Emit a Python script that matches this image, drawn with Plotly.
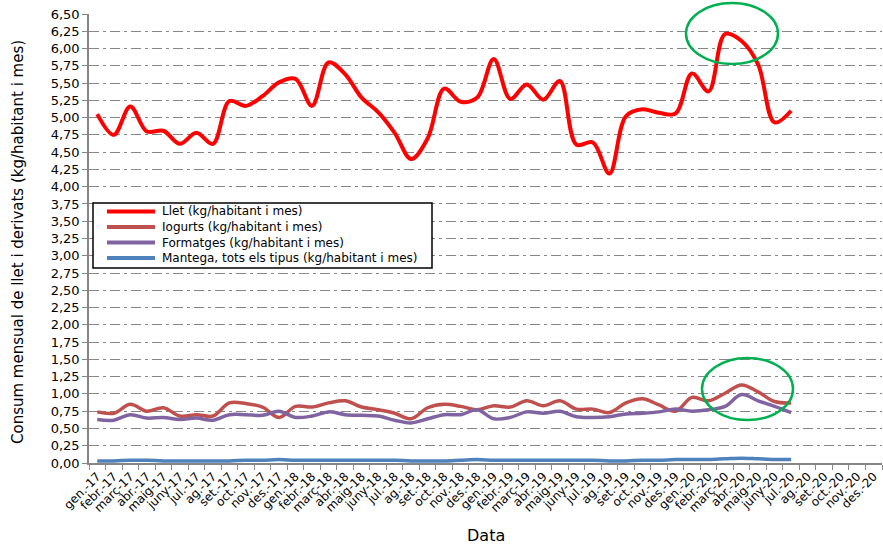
import plotly.graph_objects as go

months = ["gen.-17","febr.-17","març-17","abr.-17","maig-17","juny-17","jul.-17","ag.-17","set.-17","oct.-17","nov.-17","des.-17",
          "gen.-18","febr.-18","març-18","abr.-18","maig-18","juny-18","jul.-18","ag.-18","set.-18","oct.-18","nov.-18","des.-18",
          "gen.-19","febr.-19","març-19","abr.-19","maig-19","juny-19","jul.-19","ag.-19","set.-19","oct.-19","nov.-19","des.-19",
          "gen.-20","febr.-20","març-20","abr.-20","maig-20","juny-20","jul.-20","ag.-20","set.-20","oct.-20","nov.-20","des.-20"]

llet = [5.05,4.75,5.16,4.80,4.81,4.62,4.78,4.62,5.24,5.17,5.31,5.51,5.56,5.17,5.80,5.63,5.29,5.08,4.78,4.40,4.70,5.42,5.23,5.29,
        5.85,5.27,5.48,5.26,5.53,4.61,4.64,4.19,5.02,5.12,5.07,5.06,5.64,5.38,6.21,6.11,5.77,4.93,5.10]
iogurts = [0.74,0.72,0.85,0.75,0.80,0.68,0.70,0.68,0.87,0.86,0.81,0.66,0.82,0.81,0.87,0.90,0.81,0.77,0.72,0.64,0.80,0.85,0.82,0.77,
           0.83,0.81,0.90,0.83,0.90,0.78,0.78,0.73,0.87,0.93,0.84,0.75,0.95,0.90,1.01,1.13,1.03,0.89,0.87]
formatges = [0.63,0.62,0.70,0.65,0.66,0.63,0.65,0.62,0.70,0.70,0.69,0.75,0.66,0.68,0.74,0.70,0.69,0.68,0.62,0.58,0.64,0.70,0.70,0.77,
             0.64,0.66,0.74,0.72,0.75,0.67,0.66,0.67,0.71,0.72,0.74,0.78,0.75,0.77,0.82,0.99,0.90,0.82,0.73]
mantega = [0.03,0.03,0.04,0.04,0.03,0.03,0.03,0.03,0.03,0.04,0.04,0.05,0.04,0.04,0.04,0.04,0.04,0.04,0.04,0.03,0.03,0.03,0.04,0.05,
           0.04,0.04,0.04,0.04,0.04,0.04,0.04,0.03,0.03,0.04,0.04,0.05,0.05,0.05,0.06,0.07,0.06,0.05,0.05]

series_names = ["Llet (kg/habitant i mes)", "Iogurts (kg/habitant i mes)",
                "Formatges (kg/habitant i mes)", "Mantega, tots els tipus (kg/habitant i mes)"]
series_values = [llet, iogurts, formatges, mantega]
series_colors = ["#FF0000", "#C0504D", "#8064A2", "#4F81BD"]
series_widths = [4, 3.5, 3.5, 3.5]

FONT = "DejaVu Sans"
W, H = 883, 545
ML, MR, MT, MB = 89, 1, 14, 82
PW, PH = W - ML - MR, H - MT - MB


def px(x):
    return (x - ML) / PW


def py(y):
    return (MT + PH - y) / PH


fig = go.Figure()
for name, vals, color, w in zip(series_names, series_values, series_colors, series_widths):
    fig.add_trace(go.Scatter(x=months[:len(vals)], y=vals, name=name, mode="lines", showlegend=False,
                             line=dict(color=color, width=w, shape="spline", smoothing=1)))

fig.update_layout(
    width=W, height=H,
    margin=dict(l=ML, r=MR, t=MT, b=MB),
    paper_bgcolor="white", plot_bgcolor="white",
    separators=",.",
    font=dict(family=FONT, color="#000000"),
    showlegend=False,
)
fig.update_xaxes(type="category", categoryorder="array", categoryarray=months,
                 range=[-0.5, len(months) - 0.5],
                 showgrid=False, showline=True, linecolor="#868686", linewidth=1.5,
                 ticks="outside", ticklen=5, tickcolor="#868686", tickwidth=1,
                 tickson="boundaries", tickangle=-45,
                 tickfont=dict(family=FONT, size=12, color="#000000"))
fig.update_yaxes(range=[0, 6.5], dtick=0.25, tick0=0, tickformat=".2f",
                 showgrid=True, gridcolor="#868686", gridwidth=1.3, griddash="10px,4px,3px,4px",
                 showline=True, linecolor="#868686", linewidth=1.5,
                 ticks="outside", ticklen=5, tickcolor="#868686",
                 zeroline=False,
                 tickfont=dict(family=FONT, size=13, color="#000000"))

fig.add_annotation(text="Consum mensual de llet i derivats (kg/habitant i mes)",
                   xref="paper", yref="paper", x=px(18), y=py(242), textangle=-90,
                   showarrow=False, xanchor="center", yanchor="middle",
                   font=dict(family=FONT, size=15, color="#000000"))
fig.add_annotation(text="Data", xref="paper", yref="paper", x=px(486), y=py(535),
                   showarrow=False, xanchor="center", yanchor="middle",
                   font=dict(family=FONT, size=16, color="#000000"))

# legend box (drawn by hand to match the compact row spacing)
fig.add_shape(type="rect", xref="paper", yref="paper", x0=px(93), x1=px(432), y0=py(268), y1=py(203),
              line=dict(color="#000000", width=1.5), fillcolor="white", layer="above")
rows = [211.5, 227, 242.5, 258]
for name, color, ry in zip(series_names, series_colors, rows):
    fig.add_shape(type="line", xref="paper", yref="paper", x0=px(107), x1=px(155), y0=py(ry), y1=py(ry),
                  line=dict(color=color, width=4), layer="above")
    fig.add_annotation(text=name, xref="paper", yref="paper", x=px(160), y=py(ry),
                       xanchor="left", yanchor="middle", showarrow=False,
                       font=dict(family=FONT, size=12, color="#000000"))

for x0, x1, y0, y1 in [(686, 778, 64, 3), (702, 793, 420, 358)]:
    fig.add_shape(type="circle", xref="paper", yref="paper", x0=px(x0), x1=px(x1), y0=py(y0), y1=py(y1),
                  line=dict(color="#00B050", width=2.5), fillcolor="rgba(0,0,0,0)")

fig.write_html("out.html", config={"displayModeBar": False},
               post_script="document.body.style.margin='0';document.body.style.overflow='hidden';")
